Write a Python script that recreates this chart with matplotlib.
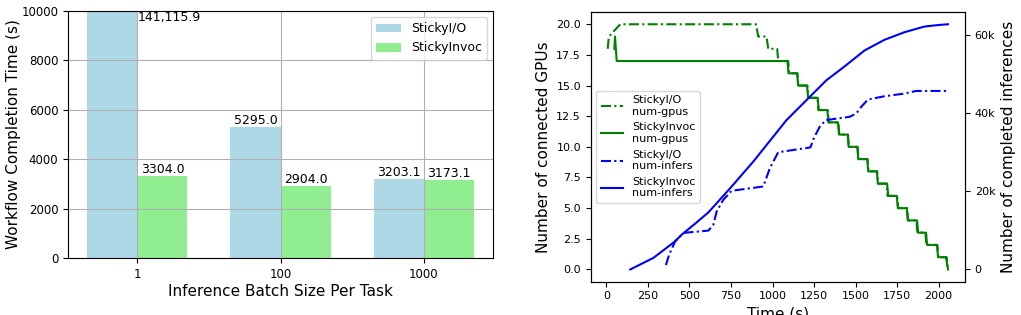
import matplotlib
matplotlib.use('Agg')
import matplotlib.pyplot as plt
from matplotlib.ticker import FuncFormatter
import numpy as np

# ---- left chart: completion time per batch size
batch_sizes = ['1', '100', '1000']
sticky_io_time = [141115.9, 5295.0, 3203.1]
sticky_invoc_time = [3304.0, 2904.0, 3173.1]

# ---- right chart: connected gpus / completed inferences over time
io_gpu_t = [8, 14, 28, 84, 900, 914, 964, 974, 1028, 1034, 1094, 1100, 1150, 1156,
            1210, 1216, 1270, 1276, 1332, 1338, 1396, 1402, 1454, 1460, 1512, 1518,
            1572, 1578, 1630, 1636, 1686, 1692, 1750, 1756, 1810, 1816, 1866, 1872,
            1920, 1926, 1992, 1998, 2048, 2056]
io_gpu_v = [18, 18.9, 19.2, 20, 20, 19, 19, 18, 18, 17, 17, 16, 16, 15,
            15, 14, 14, 13, 13, 12, 12, 11, 11, 10, 10, 9,
            9, 8, 8, 7, 7, 6, 6, 5, 5, 4, 4, 3,
            3, 2, 2, 1, 1, 0]

invoc_gpu_t = [48, 52, 62, 1090, 1096, 1148, 1154, 1208, 1214, 1272, 1278, 1330,
               1336, 1394, 1400, 1452, 1458, 1510, 1516, 1570, 1576, 1628, 1634,
               1690, 1696, 1748, 1754, 1808, 1814, 1870, 1876, 1924, 1930, 1990,
               1996, 2044, 2056]
invoc_gpu_v = [18, 19, 17, 17, 16, 16, 15, 15, 14, 14, 13, 13,
               12, 12, 11, 11, 10, 10, 9, 9, 8, 8, 7,
               7, 6, 6, 5, 5, 4, 4, 3, 3, 2, 2,
               1, 1, 0]

io_inf_t = [358, 378, 414, 464, 614, 644, 664, 704, 754, 944, 984, 1034, 1228,
            1250, 1284, 1320, 1464, 1504, 1534, 1574, 1674, 1794, 1864, 2056]
io_inf_v = [1100, 3830, 7230, 9370, 9960, 11490, 14890, 17870, 20170, 21270,
            25960, 30050, 31300, 33800, 36590, 38300, 39140, 40000, 41700,
            43580, 44420, 45100, 45780, 45780]

invoc_inf_t = [144, 284, 414, 454, 534, 614, 684, 754, 884, 964, 1084, 1214,
               1324, 1434, 1554, 1674, 1794, 1914, 1990, 2056]
invoc_inf_v = [0, 2990, 7230, 8940, 11740, 14630, 17950, 21270, 27650, 31910,
               38300, 43840, 48510, 52080, 56170, 58900, 60840, 62290, 62650,
               62880]

fig, (ax1, ax2) = plt.subplots(1, 2, figsize=(10.21, 3.15), dpi=100)
ax3 = ax2.twinx()
ax1.set_position([68 / 1021, 57 / 315, 425 / 1021, 247 / 315])
pos2 = [590.7 / 1021, 33.3 / 315, 374.3 / 1021, 269.7 / 315]
ax2.set_position(pos2)
ax3.set_position(pos2)

# bars
x = np.arange(len(batch_sizes))
w = 0.35
ymax = 10000
ax1.bar(x - w / 2, sticky_io_time, w, color='lightblue', label='StickyI/O')
ax1.bar(x + w / 2, sticky_invoc_time, w, color='lightgreen', label='StickyInvoc')
for xs, vals in [(x - w / 2, sticky_io_time), (x + w / 2, sticky_invoc_time)]:
	for xi, v in zip(xs, vals):
		if v > ymax:
			ax1.text(xi + w / 2, ymax, '{:,.1f}'.format(v), ha='left', va='top', fontsize=9)
		else:
			ax1.text(xi, v, '{:.1f}'.format(v), ha='center', va='bottom', fontsize=9)
ax1.set_ylim(0, ymax)
ax1.set_xticks(x)
ax1.set_xticklabels(batch_sizes)
ax1.tick_params(labelsize=8.5)
ax1.set_xlabel('Inference Batch Size Per Task', fontsize=11, labelpad=2)
ax1.set_ylabel('Workflow Completion Time (s)', fontsize=11, labelpad=0)
ax1.grid(True)
ax1.legend(loc='upper right', fontsize=9)

# gpus + inferences
dashdot = (0, (4.8, 1.6, 1, 1.6))
ax2.plot(io_gpu_t, io_gpu_v, color='green', linestyle=dashdot, lw=1.5, label='StickyI/O\nnum-gpus')
ax2.plot(invoc_gpu_t, invoc_gpu_v, color='green', linestyle='-', lw=1.5, label='StickyInvoc\nnum-gpus')
ax3.plot(io_inf_t, io_inf_v, color='blue', linestyle=dashdot, lw=1.5, label='StickyI/O\nnum-infers')
ax3.plot(invoc_inf_t, invoc_inf_v, color='blue', linestyle='-', lw=1.5, label='StickyInvoc\nnum-infers')
ax2.set_xticks(range(0, 2001, 250))
ax2.set_yticks(np.arange(0, 20.1, 2.5))
ax3.set_yticks([0, 20000, 40000, 60000])
ax3.yaxis.set_major_formatter(FuncFormatter(lambda v, p: '0' if v == 0 else '{:d}k'.format(int(v / 1000))))
ax2.tick_params(labelsize=8)
ax3.tick_params(labelsize=8)
ax2.set_xlabel('Time (s)', fontsize=11)
ax2.set_ylabel('Number of connected GPUs', fontsize=11)
ax3.set_ylabel('Number of completed inferences', fontsize=11)

h1, l1 = ax2.get_legend_handles_labels()
h2, l2 = ax3.get_legend_handles_labels()
ax2.legend(h1 + h2, l1 + l2, loc='center left', fontsize=8)

plt.savefig('out.png', dpi=100)
